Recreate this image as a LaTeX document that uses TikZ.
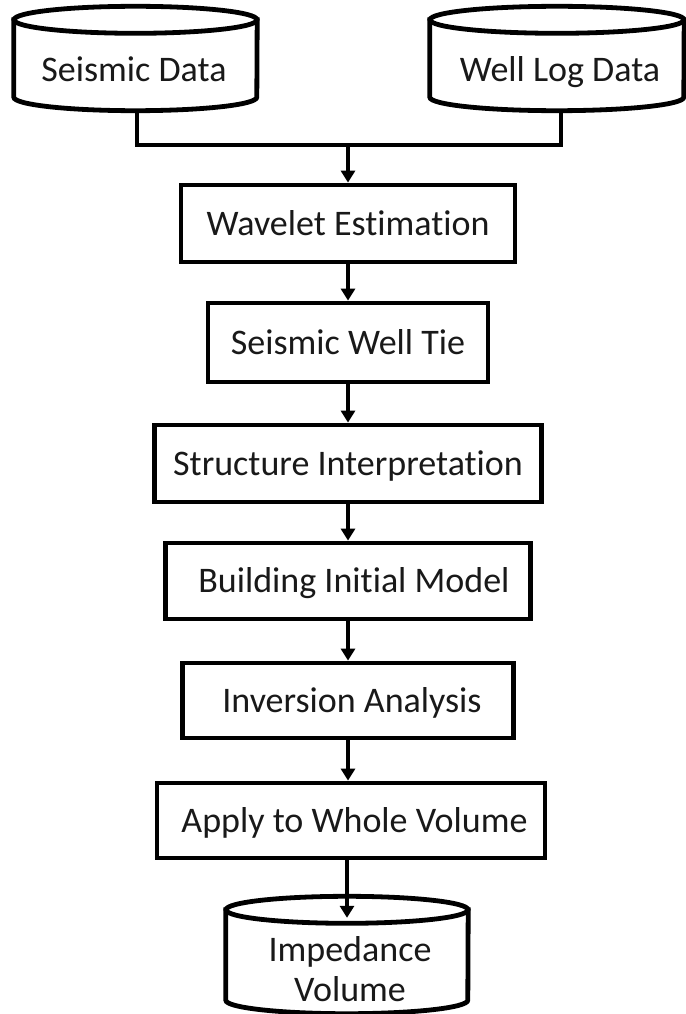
\documentclass[tikz,border=0pt]{standalone}
\usepackage{fontspec}
\setmainfont{Carlito}[Ligatures={NoCommon,NoContextual}]
\usetikzlibrary{arrows.meta}
\begin{document}
\begin{tikzpicture}[x=1pt,y=-1pt,
  txt/.style={font=\fontsize{36}{40}\selectfont, text=black!90},
  procbox/.style={txt, draw=black, line width=4.8pt, fill=white, inner sep=0pt,
    text height=23.5pt, text depth=0pt},
  cylbody/.style={draw=none, inner sep=0pt},
  cylline/.style={draw=black, line width=4.8pt, fill=white},
  flow/.style={draw=black, line width=3.8pt, -{Triangle[width=14pt,length=12pt]}},
  link/.style={draw=black, line width=3.8pt}
]
\useasboundingbox (0,0) rectangle (685,1014);

% ---- input cylinders
\node[cylbody, minimum width=243pt, minimum height=77pt] (seis) at (135.5,58.5) {};
\node[cylbody, minimum width=254pt, minimum height=77pt] (well) at (557,58.5) {};
\node[cylbody, minimum width=242pt, minimum height=90pt] (imp) at (347,955) {};

\foreach \n/\rx in {seis/121.5pt, well/127pt, imp/121pt}{
  \path[cylline] (\n.north west) -- (\n.south west)
     arc[start angle=180, end angle=360, x radius=\rx, y radius=13.5pt]
     -- (\n.north east) -- cycle;
  \path[cylline] (\n.north) ellipse[x radius=\rx, y radius=13.5pt];
}

\node[txt, anchor=base, inner sep=0pt] (seislbl) at (134,82) {Seismic Data};
\node[txt, anchor=base, inner sep=0pt] (welllbl) at (560,82) {Well Log Data};
\node[txt, anchor=base, inner sep=0pt, align=center] (implbl) at (350,1001) {Impedance\\Volume};

% ---- process boxes
\node[procbox, minimum width=334pt, minimum height=77pt] (wav) at (348,223.5) {Wavelet Estimation};
\node[procbox, minimum width=280pt, minimum height=79pt] (tie) at (348,342.5) {Seismic Well Tie};
\node[procbox, minimum width=387pt, minimum height=77pt] (str) at (348,463.5) {Structure Interpretation};
\node[procbox, minimum width=365pt, minimum height=76pt] (bld) at (348,581) {\hspace*{12pt}Building Initial Model};
\node[procbox, minimum width=331pt, minimum height=75pt] (inv) at (348,700.5) {\hspace*{8pt}Inversion Analysis};
\node[procbox, minimum width=388pt, minimum height=75pt] (app) at (351,820.5) {\hspace*{7pt}Apply to Whole Volume};

% ---- connectors
\coordinate (join) at (348,145);
\draw[link] ([yshift=-13.5pt]seis.south -| 137,0) |- (join) -| ([yshift=-13.5pt]well.south -| 561,0);
\draw[flow] (join) -- (wav.north);
\draw[flow] (wav.south) -- (tie.north);
\draw[flow] (tie.south) -- (str.north);
\draw[flow] (str.south) -- (bld.north);
\draw[flow] (bld.south) -- (inv.north);
\draw[flow] (inv.south) -- (inv.south |- app.north);
\draw[flow] (app.south -| imp.north) -- ([yshift=-8pt]imp.north);
\end{tikzpicture}
\end{document}
